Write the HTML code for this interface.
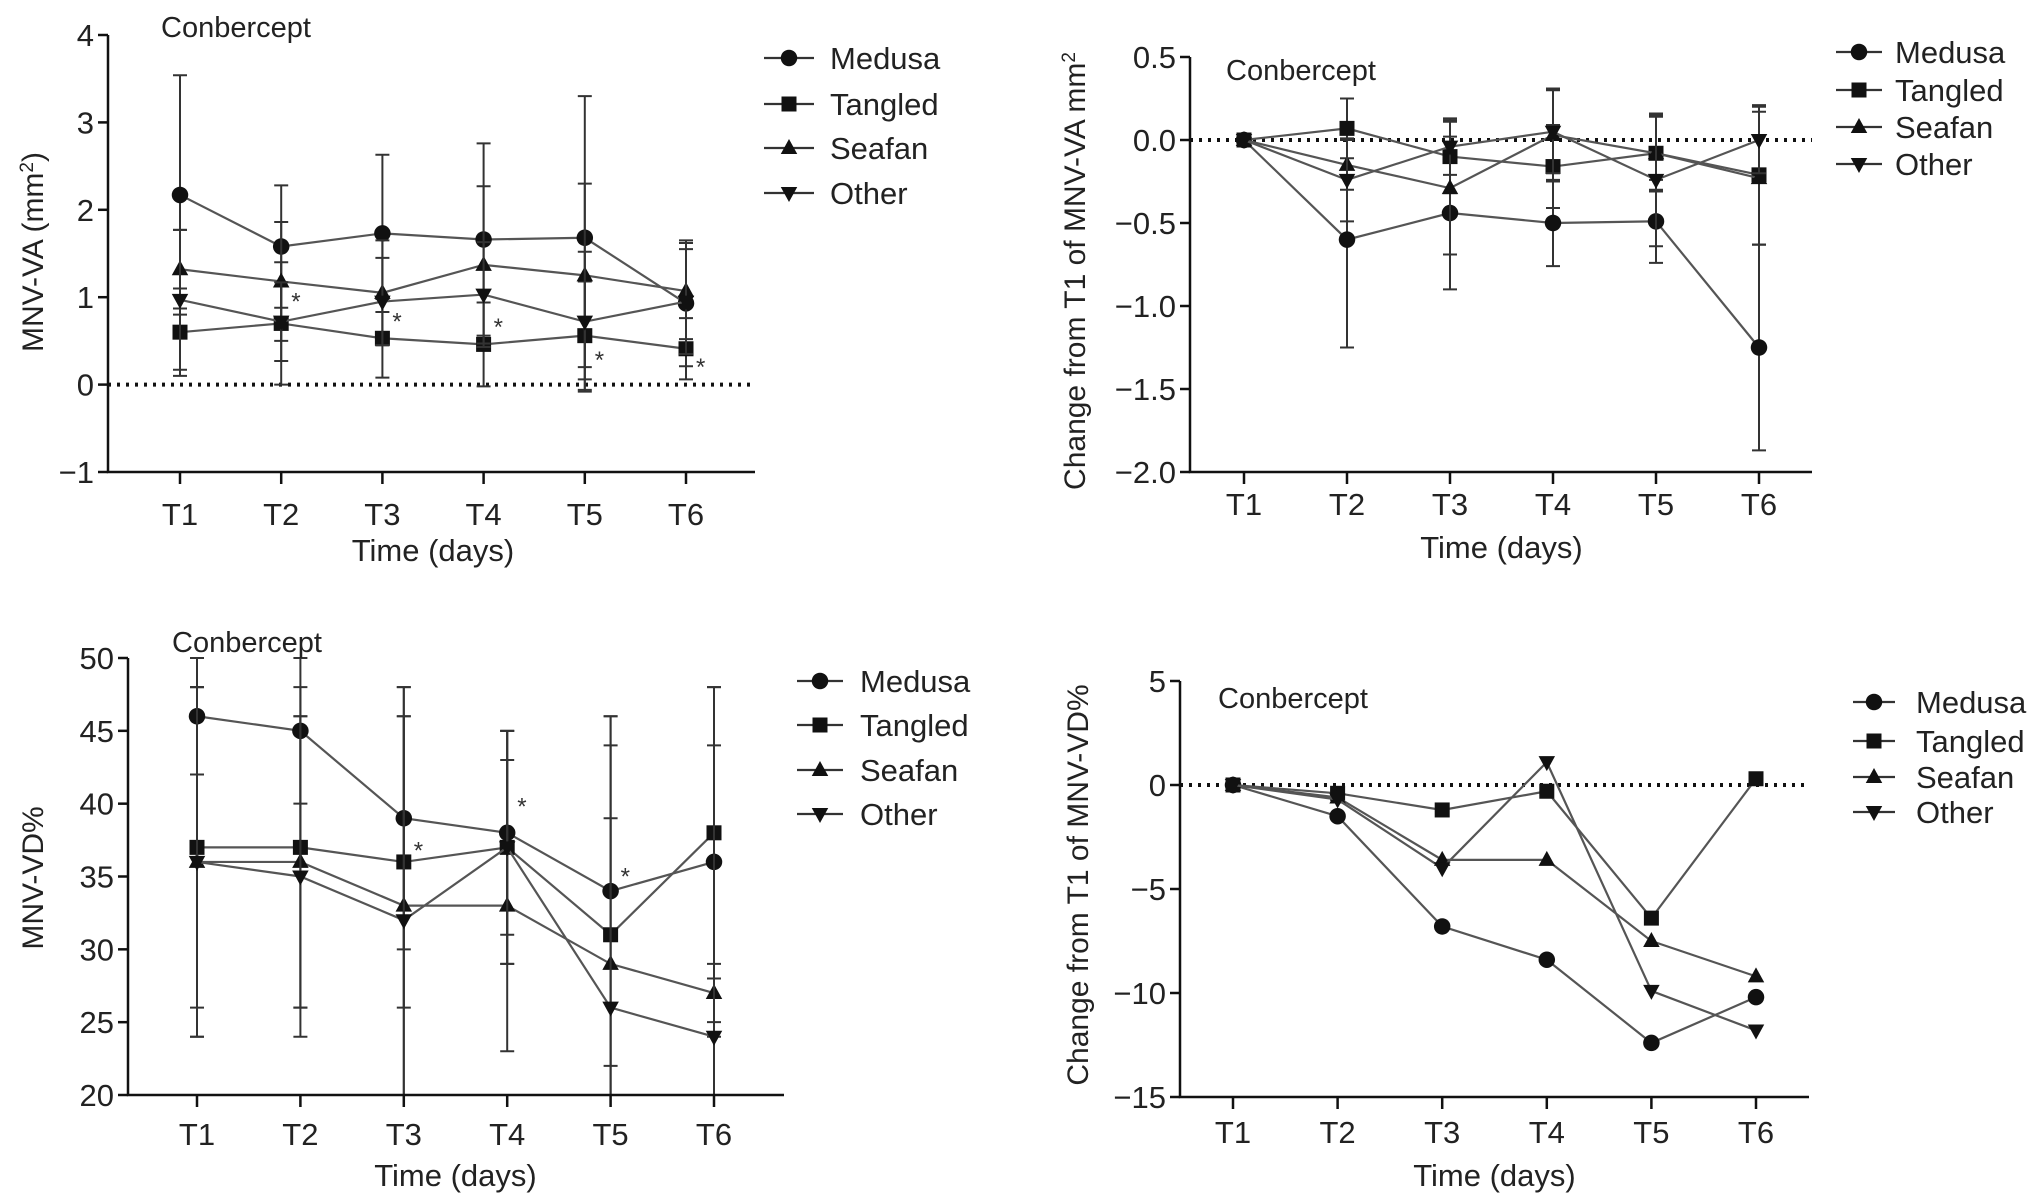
<!DOCTYPE html>
<html><head><meta charset="utf-8">
<style>
html,body{margin:0;padding:0;background:#fff;}
svg{display:block;font-family:"Liberation Sans",Arial,sans-serif;}
</style></head>
<body>
<svg id="fig" width="2032" height="1197" viewBox="0 0 2032 1197" xmlns="http://www.w3.org/2000/svg"></svg>
<script>
const categories = ["T1","T2","T3","T4","T5","T6"];
const seriesNames = ["Medusa","Tangled","Seafan","Other"];

// Panel A: MNV-VA (mm2)
const aMedusa = [2.17,1.58,1.73,1.66,1.68,0.93];
const aTangled = [0.60,0.70,0.53,0.46,0.56,0.41];
const aSeafan = [1.32,1.18,1.05,1.37,1.25,1.07];
const aOther = [0.97,0.72,0.95,1.03,0.72,0.95];
const aMedusaErr = [1.37,0.70,0.90,1.10,1.62,0.72];
const aTangledErr = [0.50,0.70,0.45,0.48,0.62,0.35];
const aSeafanErr = [0.45,0.68,0.60,0.90,1.05,0.55];
const aOtherErr = [0.80,0.45,0.50,0.60,0.80,0.60];
const aTicks = [4,3,2,1,0,-1];
const aTickLabels = ["4","3","2","1","0","\u22121"];

// Panel B: change from T1 of MNV-VA
const bMedusa = [0,-0.60,-0.44,-0.50,-0.49,-1.25];
const bTangled = [0,0.07,-0.10,-0.16,-0.08,-0.21];
const bSeafan = [0,-0.15,-0.29,0.03,-0.08,-0.23];
const bOther = [0,-0.24,-0.04,0.05,-0.24,0.00];
const bMedusaErr = [0,0.65,0.46,0.26,0.25,0.62];
const bTangledErr = [0,0.18,0.22,0.25,0.22,0.42];
const bSeafanErr = [0,0.15,0.40,0.28,0.23,0.40];
const bOtherErr = [0,0.25,0.17,0.25,0.40,0.20];
const bTicks = [0.5,0,-0.5,-1,-1.5,-2];
const bTickLabels = ["0.5","0.0","\u22120.5","\u22121.0","\u22121.5","\u22122.0"];

// Panel C: MNV-VD%
const cMedusa = [46,45,39,38,34,36];
const cTangled = [37,37,36,37,31,38];
const cSeafan = [36,36,33,33,29,27];
const cOther = [36,35,32,37,26,24];
const cMedusaErr = [4,5,9,7,12,12];
const cTangledErr = [11,11,10,8,13,10];
const cSeafanErr = [12,10,13,10,10,2];
const cOtherErr = [12,11,16,8,20,20];
const cTicks = [50,45,40,35,30,25,20];
const cTickLabels = ["50","45","40","35","30","25","20"];

// Panel D: change from T1 of MNV-VD%
const dMedusa = [0,-1.5,-6.8,-8.4,-12.4,-10.2];
const dTangled = [0,-0.4,-1.2,-0.3,-6.4,0.3];
const dSeafan = [0,-0.6,-3.6,-3.6,-7.5,-9.2];
const dOther = [0,-0.7,-4.0,1.1,-9.9,-11.8];
const dTicks = [5,0,-5,-10,-15];
const dTickLabels = ["5","0","\u22125","\u221210","\u221215"];

const NS = "http://www.w3.org/2000/svg";
const fig = document.getElementById('fig');
function mk(tag, attrs, parent){
  const e = document.createElementNS(NS, tag);
  for (const k in attrs) e.setAttribute(k, attrs[k]);
  (parent||fig).appendChild(e);
  return e;
}
function marker(g, kind, cx, cy, s){
  let m;
  if (kind===0) m = mk('circle',{cx:cx,cy:cy,r:s*0.55,fill:'#111'},g);
  else if (kind===1) m = mk('rect',{x:cx-s*0.5,y:cy-s*0.5,width:s,height:s,fill:'#111'},g);
  else if (kind===2) m = mk('polygon',{points:`${cx},${cy-s*0.6} ${cx-s*0.55},${cy+s*0.4} ${cx+s*0.55},${cy+s*0.4}`,fill:'#111'},g);
  else m = mk('polygon',{points:`${cx},${cy+s*0.6} ${cx-s*0.55},${cy-s*0.4} ${cx+s*0.55},${cy-s*0.4}`,fill:'#111'},g);
  return m;
}

function panel(cfg){
  const g = mk('g',{});
  
  
  const yS = v => cfg.y0 + (v - cfg.v0) * (cfg.y1 - cfg.y0) / (cfg.v1 - cfg.v0);
  const xS = i => cfg.xT1 + i * (cfg.xT6 - cfg.xT1) / 5;
  if (cfg.zero){
    const z = mk('line',{x1:cfg.axisX,x2:cfg.axisEnd,y1:yS(0),y2:yS(0),stroke:'#111','stroke-width':4,'stroke-dasharray':'3 6'},g);
    
    
  }
  const series = cfg.series;
  series.forEach((vals, si) => {
    const sg = mk('g',{},g);
    
    
    const errs = cfg.errs ? cfg.errs[si] : null;
    if (errs){
      vals.forEach((v,i)=>{
        if (!errs[i]) return;
        let lo = Math.max(v-errs[i], cfg.v0), hi = Math.min(v+errs[i], cfg.v1);
        const x = xS(i);
        const eb = mk('path',{d:`M${x},${yS(lo)}V${yS(hi)}M${x-7},${yS(hi)}H${x+7}`+(v-errs[i]>=cfg.v0?`M${x-7},${yS(lo)}H${x+7}`:''),stroke:'#333','stroke-width':2,fill:'none'},sg);
        
        
      });
    }
    const pts = vals.map((v,i)=>xS(i)+','+yS(v)).join(' ');
    const pl = mk('polyline',{points:pts,fill:'none',stroke:'#555','stroke-width':2.2},sg);
    
    
    vals.forEach((v,i)=>{
      const m = marker(sg, si, xS(i), yS(v), 15);
      
      
    });
  });
  const ax = mk('path',{d:`M${cfg.axisX},${yS(cfg.ticks[0])}V${yS(cfg.v0)}H${cfg.axisEnd}`,stroke:'#111','stroke-width':2.5,fill:'none'},g);
  
  
  cfg.ticks.forEach((t,i)=>{
    const y = yS(t);
    mk('line',{x1:cfg.axisX-10,x2:cfg.axisX,y1:y,y2:y,stroke:'#111','stroke-width':2.5},g);
    const tx = mk('text',{x:cfg.axisX-14,y:y+11,'text-anchor':'end','font-size':31,fill:'#222'},g);
    tx.textContent = cfg.tickLabels[i];
    
    
  });
  categories.forEach((c,i)=>{
    const x = xS(i);
    mk('line',{x1:x,x2:x,y1:yS(cfg.v0),y2:yS(cfg.v0)+12,stroke:'#111','stroke-width':2.5},g);
    const tx = mk('text',{x:x,y:cfg.tickY+11,'text-anchor':'middle','font-size':31,fill:'#222'},g);
    tx.textContent = c;
    
    
  });
  const xt = mk('text',{x:(cfg.xT1+cfg.xT6)/2,y:cfg.titleY+11,'text-anchor':'middle','font-size':31,fill:'#222'},g);
  xt.textContent = 'Time (days)';
  
  
  const yt = mk('text',{x:0,y:0,'text-anchor':'middle','font-size':30,fill:'#222',transform:`translate(${cfg.ylabX+10},${cfg.ylabY}) rotate(-90)`},g);
  yt.innerHTML = cfg.ylab;
  
  
  const ct = mk('text',{x:cfg.conX,y:cfg.conY+10,'font-size':29,fill:'#222'},g);
  ct.textContent = 'Conbercept';
  
  
  seriesNames.forEach((n,i)=>{
    const lg = mk('g',{},g);
    
    
    const y = cfg.legY[i];
    mk('line',{x1:cfg.legX1,x2:cfg.legX2,y1:y,y2:y,stroke:'#333','stroke-width':2.2},lg);
    marker(lg, i, (cfg.legX1+cfg.legX2)/2, y, 15);
    const t = mk('text',{x:cfg.legT,y:y+11,'font-size':31,fill:'#222'},lg);
    t.textContent = n;
  });
  (cfg.stars||[]).forEach(s=>{
    const t = mk('text',{x:xS(s[0])+10,y:yS(s[1])+8,'font-size':24,fill:'#333'},g);
    t.textContent = '*';
    
    
  });
}

panel({name:'panel-mnv-va',v0:-1,v1:4,y0:472,y1:35,axisX:108,axisEnd:755,xT1:180,xT6:686,tickY:514,titleY:550,
  ylabX:33,ylabY:252,ylab:'MNV-VA (mm<tspan baseline-shift="super" font-size="19">2</tspan>)',conX:161,conY:27,
  legX1:764,legX2:814,legT:830,legY:[58,104,148,193],zero:true,ticks:aTicks,tickLabels:aTickLabels,
  series:[aMedusa,aTangled,aSeafan,aOther],errs:[aMedusaErr,aTangledErr,aSeafanErr,aOtherErr],
  stars:[[1,0.95],[2,0.72],[3,0.66],[4,0.28],[5,0.2]]});

panel({name:'panel-change-mnv-va',v0:-2,v1:0.5,y0:472,y1:57,axisX:1190,axisEnd:1812,xT1:1244,xT6:1759,tickY:504,titleY:547,
  ylabX:1075,ylabY:271,ylab:'Change from T1 of MNV-VA mm<tspan baseline-shift="super" font-size="19">2</tspan>',conX:1226,conY:70,
  legX1:1836,legX2:1882,legT:1895,legY:[52,90,127,164],zero:true,ticks:bTicks,tickLabels:bTickLabels,
  series:[bMedusa,bTangled,bSeafan,bOther],errs:[bMedusaErr,bTangledErr,bSeafanErr,bOtherErr]});

panel({name:'panel-mnv-vd',v0:20,v1:50,y0:1095,y1:658,axisX:128,axisEnd:784,xT1:197,xT6:714,tickY:1134,titleY:1175,
  ylabX:33,ylabY:878,ylab:'MNV-VD%',conX:172,conY:642,
  legX1:797,legX2:843,legT:860,legY:[681,725,770,814],zero:false,ticks:cTicks,tickLabels:cTickLabels,
  series:[cMedusa,cTangled,cSeafan,cOther],errs:[cMedusaErr,cTangledErr,cSeafanErr,cOtherErr],
  stars:[[2,36.8],[3,39.8],[4,35]]});

panel({name:'panel-change-mnv-vd',v0:-15,v1:5,y0:1097,y1:681,axisX:1180,axisEnd:1809,xT1:1233,xT6:1756,tickY:1132,titleY:1175,
  ylabX:1078,ylabY:885,ylab:'Change from T1 of MNV-VD%',conX:1218,conY:698,
  legX1:1853,legX2:1895,legT:1916,legY:[702,741,777,812],zero:true,ticks:dTicks,tickLabels:dTickLabels,
  series:[dMedusa,dTangled,dSeafan,dOther],errs:null});
</script>
</body></html>
